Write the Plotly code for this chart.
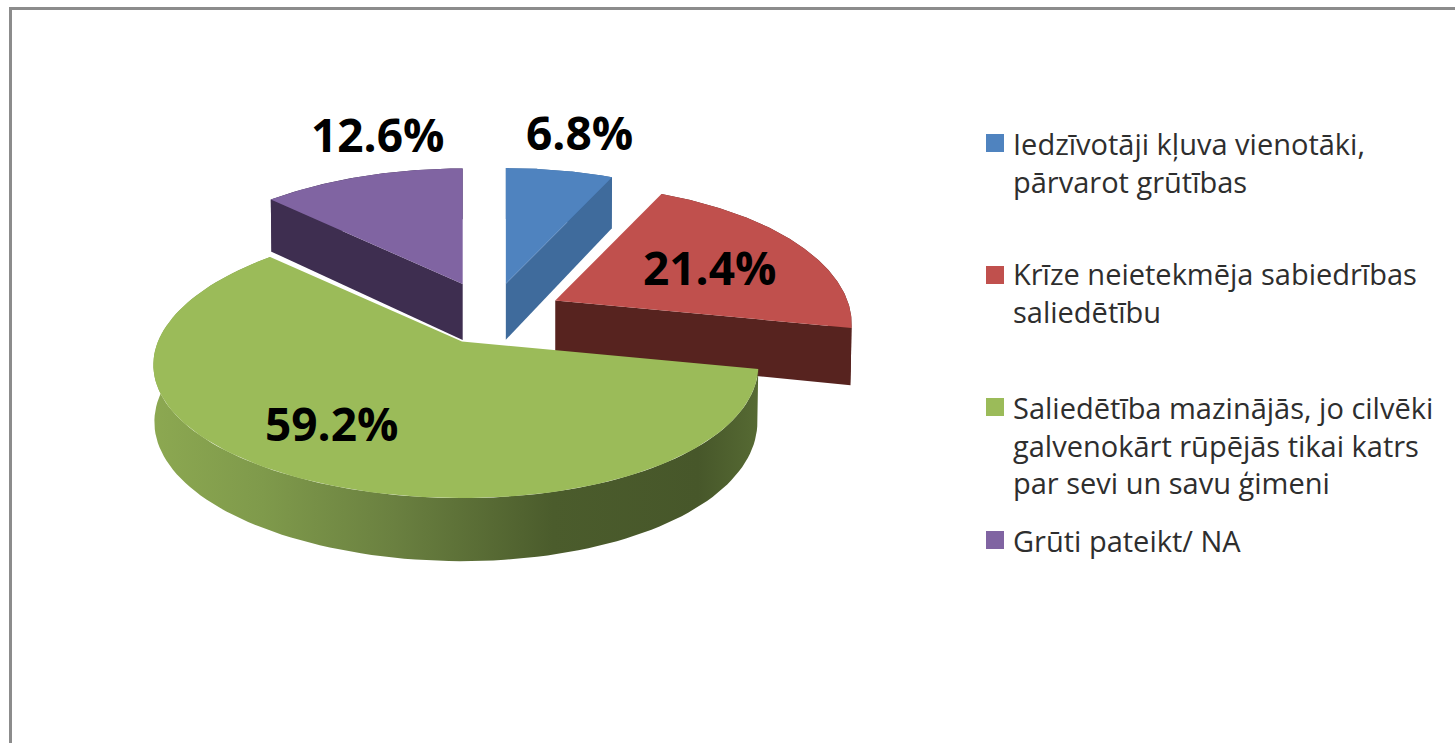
import numpy as np
import plotly.graph_objects as go

# ---- data ----
categories = ["Iedzīvotāji kļuva vienotāki, pārvarot grūtības",
              "Krīze neietekmēja sabiedrības saliedētību",
              "Saliedētība mazinājās, jo cilvēki galvenokārt rūpējās tikai katrs par sevi un savu ģimeni",
              "Grūti pateikt/ NA"]
values = [6.8, 21.4, 59.2, 12.6]
legend_lines = [["Iedzīvotāji kļuva vienotāki,", "pārvarot grūtības"],
                ["Krīze neietekmēja sabiedrības", "saliedētību"],
                ["Saliedētība mazinājās, jo cilvēki", "galvenokārt rūpējās tikai katrs", "par sevi un savu ģimeni"],
                ["Grūti pateikt/ NA"]]

# ---- styles / layout ----
top_colors = ["#4f83bf", "#c0504d", "#9bbb59", "#8064a2"]
side_colors = ["#3f6b9c", "#57231f", "#4a5b2b", "#3e2e50"]
green_rim = [[0, "#8ca851"], [0.18, "#7f9a4b"], [0.4, "#6a8040"], [0.66, "#4b5c2c"], [0.9, "#47572a"], [1, "#566a33"]]
legend_swatch_y = [143, 275, 407, 540]
legend_text_y = [162, 292, 444.5, 540]
label_xy = [(579, 132), (709, 267), (331, 423), (377, 134)]
pulls = [1.0, 1.03, 0.88, 1.05]
CX, CY, EX, EY = 491, 316, 70, 33      # pie centre and explosion
R, RK, RKB, RB = 298, 133, 139, 297    # disc radii (top / bottom)
DEPTH, PX, PY, Q = 56, 0.17, 0.15, 0.02  # thickness and perspective
FONT = "Open Sans"


def rim(theta, ax, ay, bottom=False):
    u, v = np.sin(theta), np.cos(theta)
    sx = 1 / (1 + PX * v + Q * u)
    sy = 1 / (1 + PY * v)
    if bottom:
        return ax + RB * u * sx, ay + DEPTH - RKB * v * sy
    return ax + R * u * sx, ay - RK * v * sy


def poly(name, xs, ys, color, gradient=None):
    kw = dict(fillgradient=gradient) if gradient else dict(fillcolor=color)
    return go.Scatter(x=xs, y=ys, mode="lines", fill="toself", line=dict(width=0, color=color),
                      name=name, hoverinfo="name", showlegend=False, **kw)


fractions = np.array(values) / sum(values)
edges = np.concatenate([[0], np.cumsum(fractions)]) * 2 * np.pi
fig = go.Figure()
for i in [3, 0, 1, 2]:
    a0, a1 = edges[i], edges[i + 1]
    mid = (a0 + a1) / 2
    ax, ay = CX + EX * pulls[i] * np.sin(mid), CY - EY * pulls[i] * np.cos(mid)
    th = np.linspace(a0, a1, 120)
    tx, ty = rim(th, ax, ay)
    bx, by = rim(th, ax, ay, True)
    # outer rim
    grad = dict(type="horizontal", colorscale=green_rim) if i == 2 else None
    fig.add_trace(poly(categories[i] + " (rim)", np.r_[tx, bx[::-1]], np.r_[ty, by[::-1]], side_colors[i], grad))
    # the one cut face of each slice that looks towards the viewer
    cut = {0: a1, 1: a1, 3: a0}.get(i)
    if cut is not None:
        ex, ey = rim(cut, ax, ay)
        fx, fy = rim(cut, ax, ay, True)
        fig.add_trace(poly(categories[i] + " (side)", [ax, ex, fx, ax], [ay, ey, fy, ay + DEPTH], side_colors[i]))
    fig.add_trace(poly(categories[i], np.r_[ax, tx, ax], np.r_[ay, ty, ay], top_colors[i]))

# legend swatches
fig.add_trace(go.Scatter(x=[995] * 4, y=legend_swatch_y, mode="markers", showlegend=False, hoverinfo="skip",
                         marker=dict(symbol="square", size=18, color=top_colors, line=dict(width=0))))

annotations = []
for v, (lx, ly) in zip(values, label_xy):
    annotations.append(dict(x=lx, y=ly, text=f"<b>{v:.1f}%</b>", showarrow=False,
                            font=dict(family=FONT, size=46, color="#000000")))
for lines, y in zip(legend_lines, legend_text_y):
    annotations.append(dict(x=1011, y=y, text="<br>".join(lines), showarrow=False, xanchor="left", align="left",
                            font=dict(family=FONT, size=29, color="#2e2e2e")))

frame = dict(type="line", line=dict(color="#8c8c8c", width=3))
fig.update_layout(
    width=1455, height=743, margin=dict(l=0, r=0, t=0, b=0),
    paper_bgcolor="white", plot_bgcolor="white", showlegend=False,
    xaxis=dict(range=[0, 1455], visible=False, fixedrange=True),
    yaxis=dict(range=[743, 0], visible=False, fixedrange=True),
    annotations=annotations,
    shapes=[dict(x0=10.5, x1=10.5, y0=7, y1=743, **frame), dict(x0=9, x1=1455, y0=8.5, y1=8.5, **frame)],
)
fig.write_html("out.html", config=dict(displayModeBar=False),
               post_script="document.body.style.margin='0';document.body.style.overflow='hidden';")
